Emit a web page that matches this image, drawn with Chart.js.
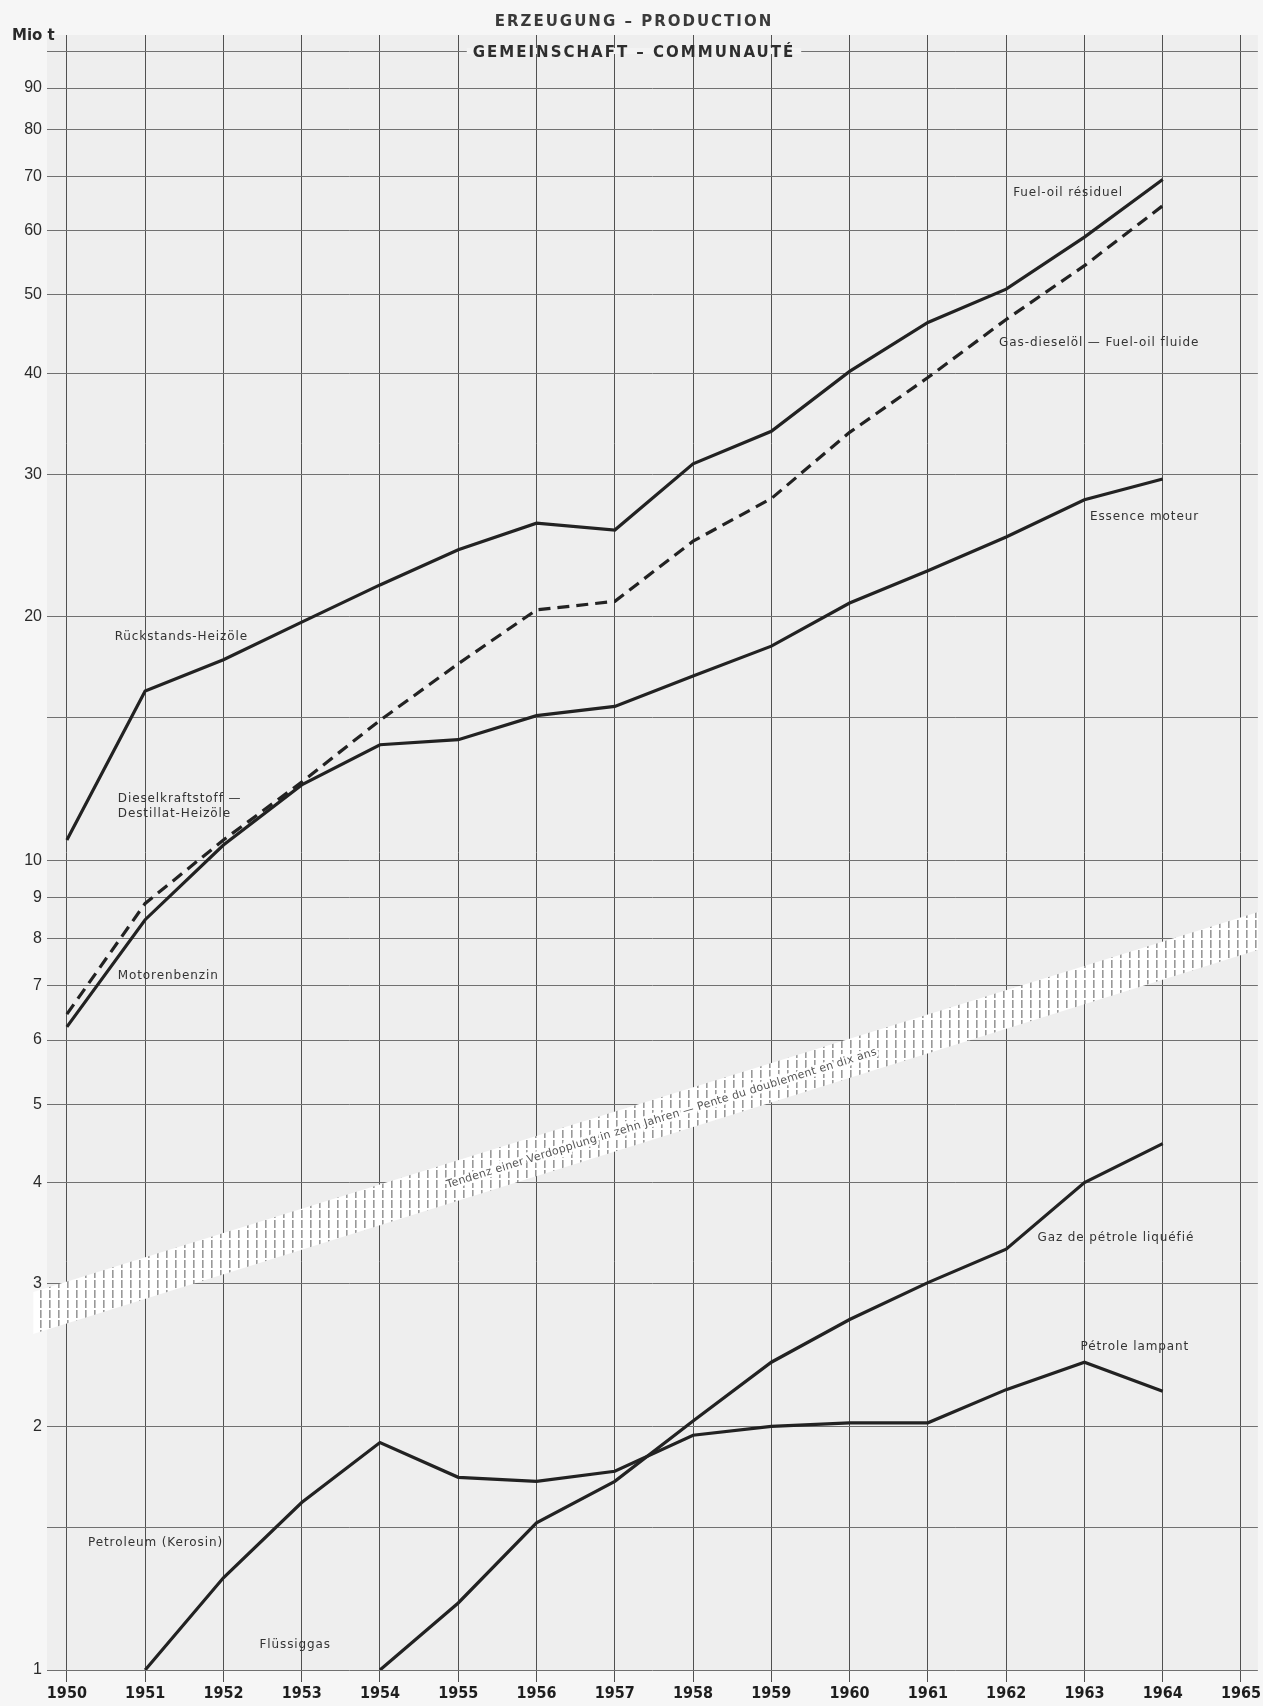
<!DOCTYPE html>
<html>
<head>
<meta charset="utf-8">
<script src="https://cdn.jsdelivr.net/npm/chart.js@4.4.0/dist/chart.umd.min.js"></script>
<style>
  body { margin: 0; background: #f6f6f6; }
  canvas { display: block; }
</style>
</head>
<body>
<canvas id="chart" width="1263" height="1706"></canvas>
<script>
// Erzeugung - Production, Gemeinschaft (Mio t), log scale
const years = [1950, 1951, 1952, 1953, 1954, 1955, 1956, 1957, 1958, 1959, 1960, 1961, 1962, 1963, 1964];
const yearTicks = [1950, 1951, 1952, 1953, 1954, 1955, 1956, 1957, 1958, 1959, 1960, 1961, 1962, 1963, 1964, 1965];
const yTickValues = [1, 1.5, 2, 3, 4, 5, 6, 7, 8, 9, 10, 15, 20, 30, 40, 50, 60, 70, 80, 90, 100];
const yLabelValues = [1, 2, 3, 4, 5, 6, 7, 8, 9, 10, 20, 30, 40, 50, 60, 70, 80, 90];

const fuelOilResiduel = [10.6, 16.2, 17.7, 19.7, 21.9, 24.2, 26.1, 25.6, 30.9, 33.9, 40.2, 46.2, 50.8, 58.9, 69.4];
const gasDieseloel   = [6.46, 8.85, 10.6, 12.5, 14.9, 17.5, 20.4, 20.9, 24.8, 28.0, 33.8, 39.5, 46.6, 54.3, 64.4];
const motorenbenzin  = [6.23, 8.45, 10.45, 12.4, 13.9, 14.1, 15.1, 15.5, 16.9, 18.4, 20.8, 22.8, 25.1, 27.9, 29.6];
const kerosin        = [null, 1.0, 1.30, 1.61, 1.91, 1.73, 1.71, 1.76, 1.95, 2.00, 2.02, 2.02, 2.22, 2.40, 2.21];
const fluessiggas    = [null, null, null, null, 1.0, 1.21, 1.52, 1.71, 2.03, 2.40, 2.71, 3.01, 3.31, 4.00, 4.47];

// hatched trend band (doubling in ten years)
const bandYears = [1949.57, 1965.22];
const bandUpper = [2.93, 8.64];
const bandLower = [2.60, 7.76];
const bandCaption = 'Tendenz einer Verdopplung in zehn Jahren — Pente du doublement en dix ans';

const seriesLabels = [
  { lines: ['Fuel-oil résiduel'], year: 1962.09, value: 66.8 },
  { lines: ['Gas-dieselöl — Fuel-oil fluide'], year: 1961.91, value: 43.6 },
  { lines: ['Essence moteur'], year: 1963.07, value: 26.6 },
  { lines: ['Rückstands-Heizöle'], year: 1950.61, value: 18.9 },
  { lines: ['Dieselkraftstoff —', 'Destillat-Heizöle'], year: 1950.65, value: 11.9 },
  { lines: ['Motorenbenzin'], year: 1950.65, value: 7.2 },
  { lines: ['Gaz de pétrole liquéfié'], year: 1962.40, value: 3.42 },
  { lines: ['Pétrole lampant'], year: 1962.95, value: 2.51 },
  { lines: ['Petroleum (Kerosin)'], year: 1950.27, value: 1.435 },
  { lines: ['Flüssiggas'], year: 1952.46, value: 1.074 }
];

function toPoints(xs, ys) {
  return xs.map((x, i) => ({ x: x, y: ys[i] }));
}

function makeHatch(ctx) {
  const c = document.createElement('canvas');
  c.width = 9; c.height = 10;
  const g = c.getContext('2d');
  g.fillStyle = '#ffffff';
  g.fillRect(0, 0, 9, 10);
  g.fillStyle = '#999999';
  g.fillRect(4, 0, 1.6, 8);
  return ctx.createPattern(c, 'repeat');
}

const lineStyle = {
  borderColor: '#222222',
  borderWidth: 3.2,
  pointRadius: 0,
  tension: 0,
  fill: false
};

const paperPlugin = {
  id: 'paper',
  beforeDraw(chart) {
    const { ctx, chartArea: a } = chart;
    ctx.save();
    ctx.fillStyle = '#f6f6f6';
    ctx.fillRect(0, 0, chart.width, chart.height);
    ctx.fillStyle = '#eeeeee';
    ctx.fillRect(a.left, a.top, a.right - a.left, a.bottom - a.top);
    ctx.restore();
  }
};

const bandPlugin = {
  id: 'band',
  beforeDatasetsDraw(chart) {
    const { ctx, scales: { x, y } } = chart;
    const top = bandYears.map((yr, i) => [x.getPixelForValue(yr), y.getPixelForValue(bandUpper[i])]);
    const bottom = bandYears.map((yr, i) => [x.getPixelForValue(yr), y.getPixelForValue(bandLower[i])]);
    ctx.save();
    ctx.beginPath();
    top.forEach(([px, py], i) => (i ? ctx.lineTo(px, py) : ctx.moveTo(px, py)));
    bottom.slice().reverse().forEach(([px, py]) => ctx.lineTo(px, py));
    ctx.closePath();
    ctx.fillStyle = makeHatch(ctx);
    ctx.fill();

    // caption runs along the band
    const angle = Math.atan2(top[1][1] - top[0][1], top[1][0] - top[0][0]);
    const cx = x.getPixelForValue(1957.6);
    const cy = y.getPixelForValue(4.8);
    ctx.translate(cx, cy);
    ctx.rotate(angle);
    ctx.font = '11px "DejaVu Sans", sans-serif';
    ctx.letterSpacing = '0.3px';
    ctx.textAlign = 'center';
    ctx.textBaseline = 'middle';
    ctx.lineWidth = 5;
    ctx.strokeStyle = '#ffffff';
    ctx.strokeText(bandCaption, 0, 0);
    ctx.fillStyle = '#555555';
    ctx.fillText(bandCaption, 0, 0);
    ctx.restore();
  }
};

const textPlugin = {
  id: 'texts',
  afterDraw(chart) {
    const { ctx, scales: { x, y } } = chart;
    ctx.save();
    ctx.textBaseline = 'middle';

    // series names
    ctx.font = '12px "DejaVu Sans", sans-serif';
    ctx.letterSpacing = '0.9px';
    ctx.fillStyle = '#333333';
    ctx.textAlign = 'left';
    seriesLabels.forEach(l => {
      const px = x.getPixelForValue(l.year);
      const py = y.getPixelForValue(l.value);
      l.lines.forEach((t, i) => ctx.fillText(t, px, py + i * 15));
    });

    // unit
    ctx.letterSpacing = '0px';
    ctx.font = 'bold 15px "DejaVu Sans", sans-serif';
    ctx.fillStyle = '#2a2a2a';
    ctx.fillText('Mio t', 12, 36);

    // headings
    const mid = 634;
    ctx.textAlign = 'center';
    ctx.letterSpacing = '2px';
    ctx.font = '600 15px "DejaVu Sans", sans-serif';
    ctx.fillStyle = '#3a3a3a';
    ctx.fillText('ERZEUGUNG – PRODUCTION', mid, 22);

    ctx.font = 'bold 15px "DejaVu Sans", sans-serif';
    const sub = 'GEMEINSCHAFT – COMMUNAUTÉ';
    const w = ctx.measureText(sub).width;
    ctx.fillStyle = '#f3f3f3';
    ctx.fillRect(mid - w / 2 - 6, y.getPixelForValue(100) - 3, w + 12, 6);
    ctx.fillStyle = '#2e2e2e';
    ctx.fillText(sub, mid, 53);
    ctx.restore();
  }
};

new Chart(document.getElementById('chart'), {
  type: 'line',
  data: {
    datasets: [
      { label: 'Rückstands-Heizöle — Fuel-oil résiduel', data: toPoints(years, fuelOilResiduel), ...lineStyle },
      { label: 'Dieselkraftstoff — Gas-dieselöl', data: toPoints(years, gasDieseloel), ...lineStyle, borderDash: [12, 7] },
      { label: 'Motorenbenzin — Essence moteur', data: toPoints(years, motorenbenzin), ...lineStyle },
      { label: 'Petroleum (Kerosin) — Pétrole lampant', data: toPoints(years, kerosin), ...lineStyle },
      { label: 'Flüssiggas — Gaz de pétrole liquéfié', data: toPoints(years, fluessiggas), ...lineStyle }
    ]
  },
  options: {
    responsive: false,
    animation: false,
    devicePixelRatio: 1,
    layout: { padding: { top: 35, left: 0, right: 0, bottom: 0 } },
    plugins: {
      legend: { display: false },
      tooltip: { enabled: false },
      title: { display: false }
    },
    scales: {
      x: {
        type: 'linear',
        min: 1949.746,
        max: 1965.216,
        z: 1,
        afterFit: s => { s.height = 36; },
        afterBuildTicks: s => { s.ticks = yearTicks.map(v => ({ value: v })); },
        border: { display: false },
        grid: { color: '#505050', lineWidth: 1, drawTicks: true, tickLength: 12 },
        ticks: {
          padding: 2,
          maxRotation: 0,
          autoSkip: false,
          color: '#1e1e1e',
          font: { family: '"Liberation Sans Narrow", "DejaVu Sans Condensed", sans-serif', size: 16, weight: 'bold' },
          callback: v => String(v)
        }
      },
      y: {
        type: 'logarithmic',
        min: 1,
        max: 104.66,
        afterFit: s => { s.width = 47; },
        afterBuildTicks: s => { s.ticks = yTickValues.map(v => ({ value: v })); },
        border: { display: false },
        grid: { color: '#707070', lineWidth: 1, drawTicks: false },
        ticks: {
          padding: 5,
          autoSkip: false,
          color: '#2a2a2a',
          font: { family: '"Liberation Sans", Arial, sans-serif', size: 16 },
          callback: v => (yLabelValues.includes(v) ? String(v) : '')
        }
      }
    }
  },
  plugins: [paperPlugin, bandPlugin, textPlugin]
});
</script>
</body>
</html>
